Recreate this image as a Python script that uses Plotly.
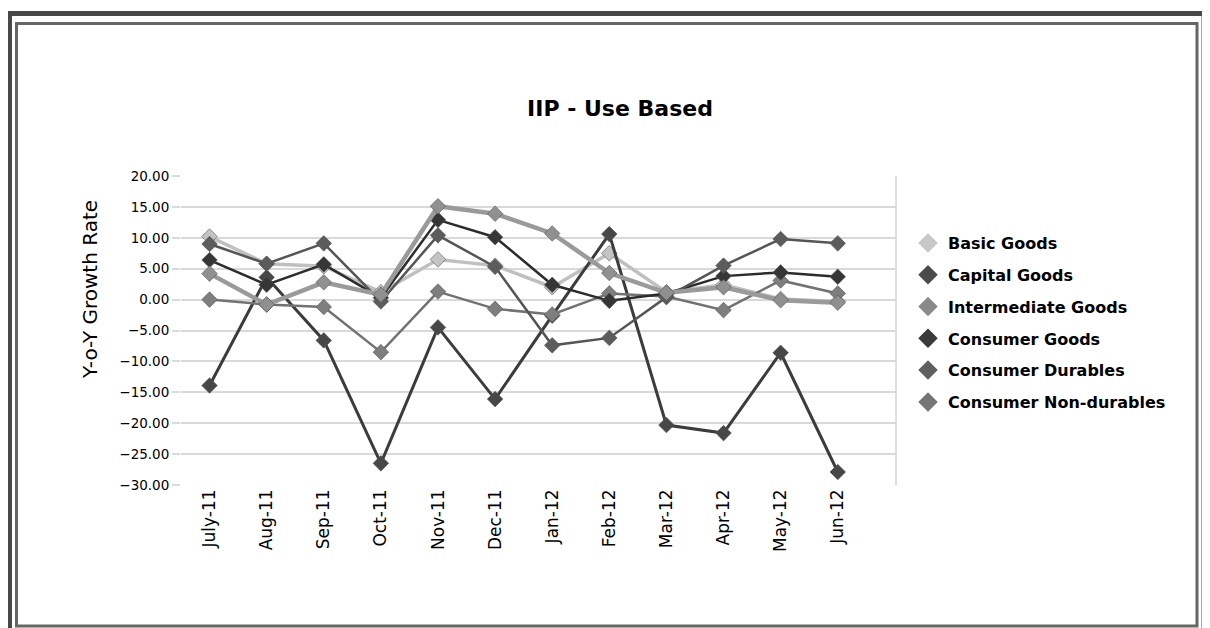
import plotly.graph_objects as go

months = ["July-11", "Aug-11", "Sep-11", "Oct-11", "Nov-11", "Dec-11",
          "Jan-12", "Feb-12", "Mar-12", "Apr-12", "May-12", "Jun-12"]

basic_goods = [10.2, 5.8, 5.4, 1.2, 6.5, 5.5, 2.0, 7.5, 1.2, 2.4, 0.1, -0.3]
capital_goods = [-13.9, 3.6, -6.6, -26.5, -4.5, -16.1, -2.6, 10.6, -20.3, -21.6, -8.6, -27.9]
intermediate_goods = [0.0, -0.8, -1.2, -8.5, 1.3, -1.5, -2.4, 1.0, 0.5, -1.7, 3.1, 1.0]
consumer_goods = [6.4, 2.4, 5.7, 0.3, 12.9, 10.1, 2.4, -0.2, 1.0, 3.8, 4.4, 3.7]
consumer_durables = [9.0, 5.8, 9.1, -0.3, 10.4, 5.3, -7.4, -6.2, 0.4, 5.5, 9.8, 9.1]
consumer_non_durables = [4.2, -0.8, 2.8, 0.8, 15.1, 13.9, 10.7, 4.3, 1.1, 2.0, -0.1, -0.5]

series_names = ["Basic Goods", "Capital Goods", "Intermediate Goods",
                "Consumer Goods", "Consumer Durables", "Consumer Non-durables"]
series_values = [basic_goods, capital_goods, intermediate_goods,
                 consumer_goods, consumer_durables, consumer_non_durables]

# grey tones of the original (printed) chart
line_colors = ["#c0c0c0", "#3c3c3c", "#727272", "#2c2c2c", "#555555", "#9a9a9a"]
marker_colors = ["#c4c4c4", "#474747", "#7e7e7e", "#363636", "#5c5c5c", "#909090"]
legend_colors = ["#c8c8c8", "#4b4b4b", "#8a8a8a", "#3a3a3a", "#5f5f5f", "#757575"]
line_widths = [3.5, 3, 2.5, 2.5, 2.5, 4.5]

FONT = "DejaVu Sans"
OFF = 8  # page body margin
W, H = 1210 - OFF, 628 - OFF
L, R, T, B = 181 - OFF, 896 - OFF, 176 - OFF, 485 - OFF  # plot area in figure pixels


def px_x(x):
    """Screen pixel x -> paper coordinate."""
    return (x - OFF - L) / (R - L)


def px_y(y):
    """Screen pixel y -> paper coordinate."""
    return (B - (y - OFF)) / (B - T)


fig = go.Figure()

for name, vals, lc, mc, lw in zip(series_names, series_values, line_colors, marker_colors, line_widths):
    fig.add_trace(go.Scatter(
        x=months, y=vals, name=name, mode="lines+markers", showlegend=False,
        line=dict(color=lc, width=lw),
        marker=dict(symbol="diamond", size=12, color=mc, line=dict(color="#555555", width=0.6)),
    ))

# legend shows diamonds only, like the original
for i, (name, c) in enumerate(zip(series_names, legend_colors)):
    fig.add_trace(go.Scatter(
        x=[None], y=[None], name=f"<b>{name}</b>", mode="markers", legendgroup=f"g{i}",
        marker=dict(symbol="diamond", size=15, color=c),
    ))

shapes = [
    # right border of plot area
    dict(type="line", xref="paper", yref="paper", x0=1, x1=1, y0=0, y1=1,
         line=dict(color="#d4d4d4", width=1.5)),
    # outer and inner frames
    dict(type="rect", xref="paper", yref="paper",
         x0=px_x(9.5), x1=px_x(1204), y0=px_y(645), y1=px_y(13.5),
         line=dict(color="#484848", width=5)),
    dict(type="rect", xref="paper", yref="paper",
         x0=px_x(16.5), x1=px_x(1197), y0=px_y(626), y1=px_y(23.5),
         line=dict(color="#666666", width=3)),
]

fig.update_layout(
    width=W, height=H,
    margin=dict(l=L, r=W - R, t=T, b=H - B, autoexpand=False),
    paper_bgcolor="white", plot_bgcolor="white",
    font=dict(family=FONT, color="#000000"),
    title=dict(text="<b>IIP - Use Based</b>", x=(620 - OFF) / W, xref="container", xanchor="center",
               y=1 - (108 - OFF) / H, yref="container", yanchor="middle",
               font=dict(family=FONT, size=22, color="#000000")),
    xaxis=dict(type="category", range=[-0.5, 12.02], showgrid=False, zeroline=False,
               showline=False, tickangle=-90, tickfont=dict(family=FONT, size=17),
               ticks="", ticklen=0),
    yaxis=dict(range=[-30, 20], dtick=5, tickformat=".2f", showgrid=True,
               gridcolor="#d9d9d9", gridwidth=1.5, zeroline=False, showline=False,
               ticks="outside", ticklen=8, tickcolor="#d9d9d9", tickwidth=1.5,
               tickfont=dict(family=FONT, size=13.5)),
    legend=dict(x=px_x(908), xanchor="left", y=px_y(226), yanchor="top",
                font=dict(family=FONT, size=16, color="#000000"),
                tracegroupgap=8, bgcolor="rgba(0,0,0,0)"),
    shapes=shapes,
    annotations=[dict(text="Y-o-Y Growth Rate", xref="paper", yref="paper",
                      x=px_x(90), y=px_y(290), textangle=-90, showarrow=False,
                      xanchor="center", yanchor="middle",
                      font=dict(family=FONT, size=20, color="#000000"))],
)

fig.write_html("out.html")
